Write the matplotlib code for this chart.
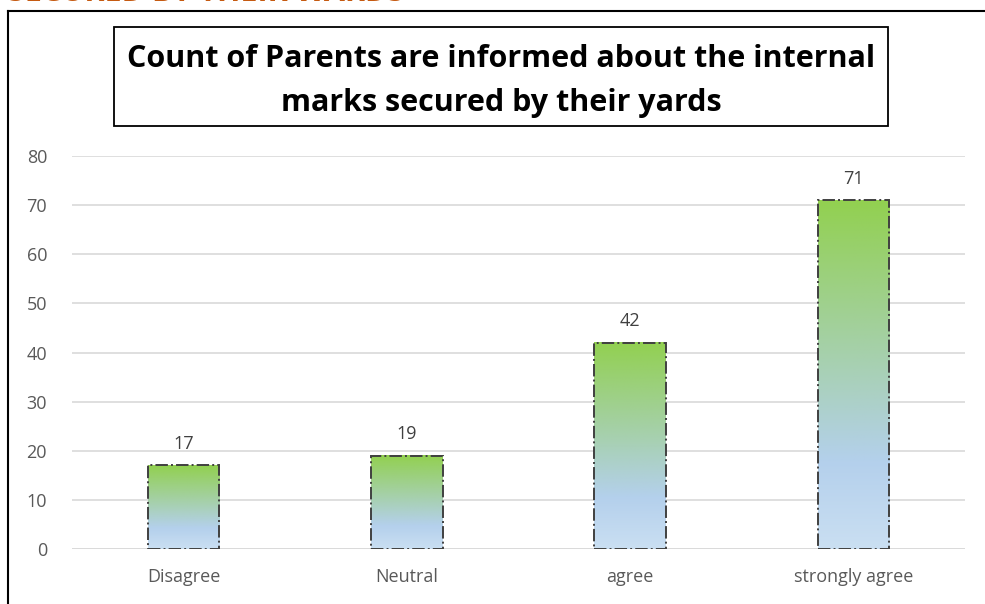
import matplotlib.pyplot as plt
from matplotlib.colors import LinearSegmentedColormap
from matplotlib.patches import Rectangle
import numpy as np

# data
categories = ['Disagree', 'Neutral', 'agree', 'strongly agree']
counts = [17, 19, 42, 71]
title = 'Count of Parents are informed about the internal\nmarks secured by their yards'
heading = 'SECURED BY THEIR WARDS'

plt.rcParams['font.family'] = ['Open Sans', 'DejaVu Sans']

W, H = 985, 604
fig = plt.figure(figsize=(W / 100, H / 100), dpi=100)

# heading of the page above the chart, cut off at the top as in the source
fig.text(8 / W, 1 - 8 / H, heading, color='#C55A11', fontsize=22, fontweight='bold',
         ha='left', va='bottom')

# chart frame
fig.add_artist(plt.Line2D([8 / W, 8 / W], [0, 1 - 11 / H], color='black', lw=1.5))
fig.add_artist(plt.Line2D([8 / W, 1], [1 - 11 / H, 1 - 11 / H], color='black', lw=1.5))

ax = fig.add_axes([72 / W, 1 - 549 / H, (965 - 72) / W, (549 - 156) / H])
x = np.arange(len(categories))
bars = ax.bar(x, counts, width=0.32, facecolor='none', edgecolor='#404040',
              linewidth=1.4, linestyle='-.', zorder=3)

cmap = LinearSegmentedColormap.from_list(
    'grad', [(0, '#CADFF2'), (0.25, '#B4D0EC'), (1.0, '#92D050')])
grad = np.linspace(0, 1, 256).reshape(-1, 1)
for b in bars:
    ax.imshow(grad, cmap=cmap, origin='lower', aspect='auto', zorder=2,
              extent=[b.get_x(), b.get_x() + b.get_width(), 0, b.get_height()])

for xi, v in zip(x, counts):
    ax.text(xi, v + 2.5, str(v), ha='center', va='bottom', fontsize=13, color='#404040')

ax.set_xlim(-0.5, len(categories) - 0.5)
ax.set_ylim(0, 80)
ax.set_yticks(range(0, 81, 10))
ax.set_xticks(x)
ax.set_xticklabels(categories)
ax.tick_params(axis='both', length=0, labelsize=13, labelcolor='#595959')
ax.tick_params(axis='y', pad=18)
ax.tick_params(axis='x', pad=14)
ax.grid(axis='y', color='#D9D9D9', linewidth=1.2, zorder=0)
ax.set_axisbelow(True)
for s in ax.spines.values():
    s.set_visible(False)
ax.axhline(0, color='#D9D9D9', linewidth=1.2, zorder=1)

# title box
fig.add_artist(Rectangle((114 / W, 1 - 126 / H), (888 - 114) / W, (126 - 27) / H,
                         transform=fig.transFigure, facecolor='white',
                         edgecolor='black', linewidth=1.3))
fig.text(501 / W, 1 - 81 / H, title, ha='center', va='center', fontsize=22,
         fontweight='bold', linespacing=1.6, color='black')

fig.savefig('out.png', dpi=100)
